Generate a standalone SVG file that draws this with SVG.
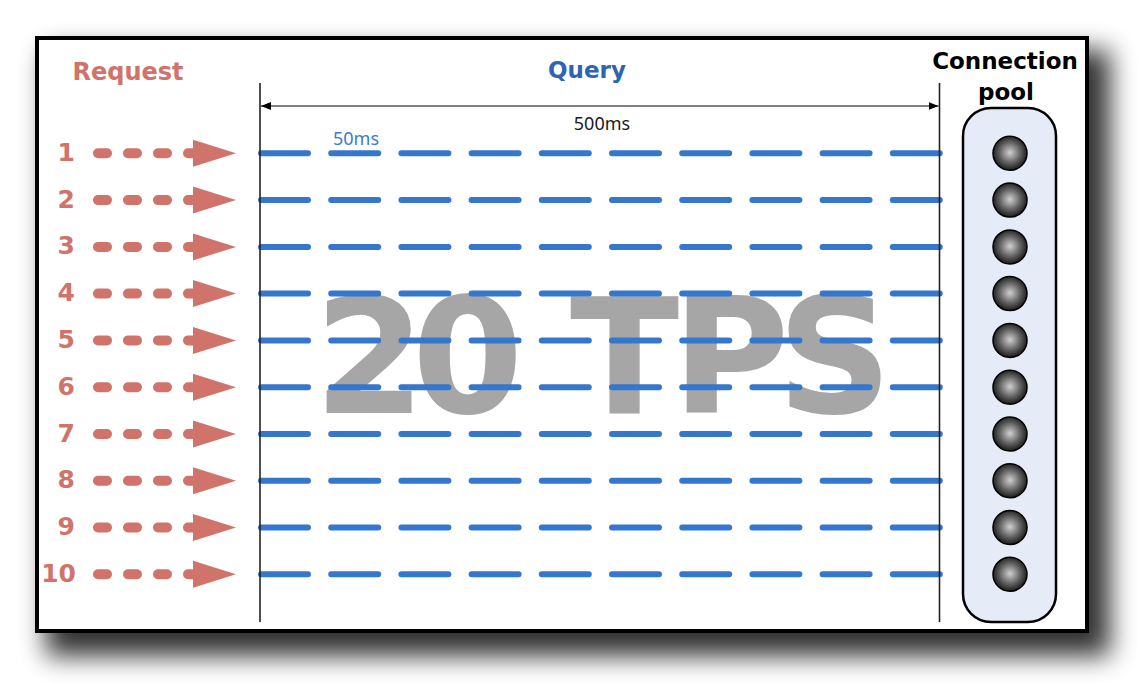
<svg xmlns="http://www.w3.org/2000/svg" xmlns:xlink="http://www.w3.org/1999/xlink" width="1143" height="684" viewBox="0 0 1143 684">
<style>
.req{fill:#d0736b;font-family:"DejaVu Sans",Verdana,sans-serif;font-weight:bold}
.num{font-size:25px;text-anchor:end}
.rdash{stroke:#d0736b;stroke-width:10;stroke-linecap:round;stroke-dasharray:9 21;fill:none}
.bdash{stroke:#3577cc;stroke-width:6;stroke-linecap:round;stroke-dasharray:47 23.2;fill:none}
.vline{stroke:#222;stroke-width:1.6}
.ball{fill:url(#ballGrad);stroke:#000;stroke-width:1.5}
.ms{font-family:"Noto Sans","Open Sans",sans-serif;font-size:18px}
</style>
<defs>
<filter id="shadow" x="-10%" y="-10%" width="125%" height="135%">
<feGaussianBlur stdDeviation="13"/>
</filter>
<radialGradient id="ballGrad" cx="50%" cy="48%" r="55%">
<stop offset="0" stop-color="#d0d0d0"/>
<stop offset="0.55" stop-color="#626262"/>
<stop offset="1" stop-color="#111"/>
</radialGradient>
<marker id="arr" viewBox="0 0 10 8" refX="10" refY="4" markerWidth="10" markerHeight="8" markerUnits="userSpaceOnUse" orient="auto-start-reverse">
<path d="M0,0 L10,4 L0,8 z" fill="#000"/>
</marker>
<g id="reqArrow">
<line class="rdash" x1="98" y1="0" x2="197" y2="0"/>
<polygon points="193,-13.5 236,0 193,13.5" fill="#d0736b"/>
</g>
</defs>

<rect x="0" y="0" width="1143" height="684" fill="#fff"/>
<!-- shadow -->
<rect x="46" y="50" width="1064" height="606" fill="#000" opacity="0.8" filter="url(#shadow)"/>
<rect x="37" y="38" width="1050" height="593" fill="#fff" stroke="#000" stroke-width="4"/>

<!-- big label -->
<text x="314 412 530 570 672 777" y="413" font-family="'DejaVu Sans',Verdana,sans-serif" font-weight="bold" font-size="160" fill="#a6a6a6">20 TPS</text>

<!-- headers -->
<text class="req" x="128" y="80" font-size="24" text-anchor="middle">Request</text>
<text x="587" y="78" font-family="'DejaVu Sans',Verdana,sans-serif" font-weight="bold" font-size="23" fill="#2e64b0" text-anchor="middle">Query</text>
<text x="1005" y="69" font-family="'DejaVu Sans',Verdana,sans-serif" font-weight="bold" font-size="23" fill="#000" text-anchor="middle">Connection</text>

<!-- pool -->
<g id="pool">
<rect x="963" y="108" width="93" height="514" rx="28" ry="28" fill="#e6ecf7" stroke="#000" stroke-width="2.5"/>
<text x="1006" y="100" font-family="'DejaVu Sans',Verdana,sans-serif" font-weight="bold" font-size="23" fill="#000" text-anchor="middle">pool</text>
<circle class="ball" cx="1010" cy="153.3" r="17"/>
<circle class="ball" cx="1010" cy="200.1" r="17"/>
<circle class="ball" cx="1010" cy="246.9" r="17"/>
<circle class="ball" cx="1010" cy="293.6" r="17"/>
<circle class="ball" cx="1010" cy="340.4" r="17"/>
<circle class="ball" cx="1010" cy="387.2" r="17"/>
<circle class="ball" cx="1010" cy="434.0" r="17"/>
<circle class="ball" cx="1010" cy="480.8" r="17"/>
<circle class="ball" cx="1010" cy="527.5" r="17"/>
<circle class="ball" cx="1010" cy="574.3" r="17"/>
</g>

<!-- requests -->
<g id="requests">
<g id="req-1" transform="translate(0,153.3)"><text class="req num" x="75" y="7.5">1</text><use xlink:href="#reqArrow"/></g>
<g id="req-2" transform="translate(0,200.1)"><text class="req num" x="75" y="7.5">2</text><use xlink:href="#reqArrow"/></g>
<g id="req-3" transform="translate(0,246.9)"><text class="req num" x="75" y="7.5">3</text><use xlink:href="#reqArrow"/></g>
<g id="req-4" transform="translate(0,293.6)"><text class="req num" x="75" y="7.5">4</text><use xlink:href="#reqArrow"/></g>
<g id="req-5" transform="translate(0,340.4)"><text class="req num" x="75" y="7.5">5</text><use xlink:href="#reqArrow"/></g>
<g id="req-6" transform="translate(0,387.2)"><text class="req num" x="75" y="7.5">6</text><use xlink:href="#reqArrow"/></g>
<g id="req-7" transform="translate(0,434.0)"><text class="req num" x="75" y="7.5">7</text><use xlink:href="#reqArrow"/></g>
<g id="req-8" transform="translate(0,480.8)"><text class="req num" x="75" y="7.5">8</text><use xlink:href="#reqArrow"/></g>
<g id="req-9" transform="translate(0,527.5)"><text class="req num" x="75" y="7.5">9</text><use xlink:href="#reqArrow"/></g>
<g id="req-10" transform="translate(0,574.3)"><text class="req num" x="76" y="7.5">10</text><use xlink:href="#reqArrow"/></g>
</g>

<!-- queries -->
<g id="queries">
<line class="bdash" x1="261" y1="153.3" x2="940" y2="153.3"/>
<line class="bdash" x1="261" y1="200.1" x2="940" y2="200.1"/>
<line class="bdash" x1="261" y1="246.9" x2="940" y2="246.9"/>
<line class="bdash" x1="261" y1="293.6" x2="940" y2="293.6"/>
<line class="bdash" x1="261" y1="340.4" x2="940" y2="340.4"/>
<line class="bdash" x1="261" y1="387.2" x2="940" y2="387.2"/>
<line class="bdash" x1="261" y1="434.0" x2="940" y2="434.0"/>
<line class="bdash" x1="261" y1="480.8" x2="940" y2="480.8"/>
<line class="bdash" x1="261" y1="527.5" x2="940" y2="527.5"/>
<line class="bdash" x1="261" y1="574.3" x2="940" y2="574.3"/>
</g>

<!-- timing -->
<g id="connectors">
<line class="vline" x1="260" y1="83" x2="260" y2="622"/>
<line class="vline" x1="939.5" y1="83" x2="939.5" y2="622"/>
<line x1="261" y1="106" x2="938.5" y2="106" stroke="#000" stroke-width="1.2" marker-start="url(#arr)" marker-end="url(#arr)"/>
</g>
<text class="ms" x="602" y="129.5" fill="#1a1a1a" text-anchor="middle">500ms</text>
<text class="ms" x="356" y="145" fill="#3a7bd5" text-anchor="middle">50ms</text>
</svg>
